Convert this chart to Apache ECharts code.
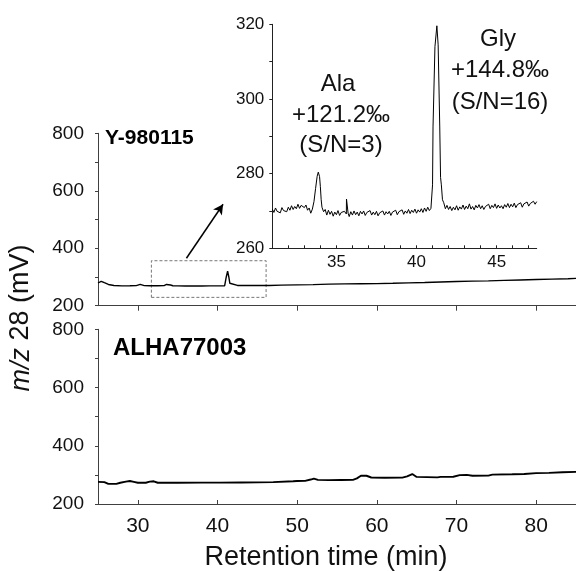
<!DOCTYPE html>
<html>
<head>
<meta charset="utf-8">
<script src="https://cdn.jsdelivr.net/npm/echarts@6.0.0/dist/echarts.min.js"></script>
<style>
html,body{margin:0;padding:0;background:#fff;}
#chart{width:576px;height:571px;}
</style>
</head>
<body>
<div id="chart"></div>
<script>
// ---- data: [retention time (min), m/z 28 signal (mV)] ----
const topTrace = [[25.0,279],[25.4,285],[25.8,280],[26.3,274],[27.0,270.5],[28.0,269],[29.0,269.5],[29.8,270],[30.3,274],[30.8,270],[31.5,269.5],[32.5,269.5],[33.3,270],[33.6,274],[33.85,279],[34.1,272],[34.4,269.5],[35.0,269],[36.0,268.5],[37.0,268.5],[38.0,268.5],[39.0,269],[40.0,269],[40.9,269.5],[41.0,276],[41.1,300],[41.27,320],[41.42,300],[41.55,278],[41.7,272],[42.5,270.5],[43.5,270.5],[44.5,270.5],[45.5,270.5],[46.5,270.5],[48,271.5],[50,272.5],[52,273.5],[54,275],[56,276],[58,276.5],[60,277],[62,278],[64,279.5],[66,280.5],[68,282.5],[70,284],[72,285.5],[74,286.5],[76,288],[78,289.5],[80,291],[82,292.5],[84,294],[85,295]];

const bottomTrace = [[25.0,276],[25.8,275],[26.3,269],[27.3,269],[27.8,273],[28.5,277],[29.0,279],[29.5,276],[30.0,273],[31.0,273],[31.5,277],[32.0,278],[32.5,273],[35,273],[38,273.5],[40.3,273.5],[43,274],[47,275],[47.2,277.5],[49.5,278],[50,279],[51,279.5],[51.7,284],[52.1,287],[52.6,283],[54,282],[55.5,282.5],[57.0,283],[57.5,288],[58.0,297],[58.7,297],[59.3,291],[61,290],[63.2,290.5],[63.8,295],[64.45,303],[65,293],[67.6,291.5],[68,293],[69.6,293.5],[70.4,299],[71.3,300],[72,297],[74,297.5],[74.5,301],[77,302],[78.5,303],[80,306],[81.6,307],[83.3,309],[85,310.5]];

const insetTrace = [[31.0,270.5],[31.1,269.6],[31.2,270.8],[31.3,269.9],[31.4,270.3],[31.5,269.5],[31.6,270.9],[31.7,270.1],[31.8,270.6],[31.9,269.8],[32.0,271.0],[32.1,270.2],[32.2,271.4],[32.3,270.4],[32.4,271.2],[32.5,270.6],[32.6,271.8],[32.7,270.7],[32.8,271.5],[32.9,272.0],[33.0,270.9],[33.1,271.6],[33.2,270.2],[33.3,270.8],[33.4,269.4],[33.5,270.5],
[33.6,272.5],[33.7,276.0],[33.8,279.3],[33.87,280.4],[33.95,279.2],[34.0,276.5],[34.05,273.0],[34.1,271.0],[34.2,269.8],
[34.3,270.4],[34.4,268.9],[34.5,270.2],[34.6,269.1],[34.7,269.9],[34.8,268.6],[34.9,269.7],[35.0,269.0],[35.1,270.1],[35.2,268.8],[35.3,269.6],[35.4,269.1],[35.5,269.9],[35.62,269.2],[35.63,273.2],[35.72,273.2],[35.73,269.4],[35.8,268.5],[35.9,269.8],[36.0,268.9],[36.1,270.0],[36.2,269.0],[36.3,269.7],[36.4,268.7],[36.5,269.9],[36.6,269.2],[36.7,270.0],[36.8,268.8],[36.9,269.6],[37.0,269.2],[37.1,270.1],[37.2,268.9],[37.3,269.7],[37.4,269.0],[37.5,269.9],[37.6,268.7],[37.7,269.5],[37.8,269.1],[37.9,270.0],[38.0,268.9],[38.1,269.8],[38.2,269.2],[38.3,269.9],[38.4,268.8],[38.5,269.7],[38.6,269.3],[38.7,270.2],[38.8,269.0],[38.9,269.8],[39.0,269.3],[39.1,270.3],[39.2,269.1],[39.3,270.0],[39.4,269.4],[39.5,270.4],[39.6,269.3],[39.7,270.2],[39.8,269.6],[39.9,270.5],[40.0,269.4],[40.1,270.3],[40.2,269.7],[40.3,270.6],[40.4,269.6],[40.5,270.8],[40.6,269.9],[40.7,271.0],[40.8,270.1],[40.9,270.7],[40.98,270.4],
[41.0,277],[41.03,292.5],[41.12,293],[41.15,314],[41.27,319.6],[41.35,314.5],[41.42,314],[41.45,292.5],[41.48,292],[41.5,279],[41.55,277],[41.62,273],[41.7,272.2],
[41.8,270.6],[41.9,271.5],[42.0,270.4],[42.1,271.2],[42.2,270.1],[42.3,271.0],[42.4,270.3],[42.5,271.4],[42.6,270.2],[42.7,271.1],[42.8,270.5],[42.9,271.6],[43.0,270.4],[43.1,271.3],[43.2,270.6],[43.3,271.9],[43.4,270.5],[43.5,271.2],[43.6,270.3],[43.7,271.5],[43.8,270.8],[43.9,271.7],[44.0,270.6],[44.1,271.4],[44.2,270.4],[44.3,271.2],[44.4,270.7],[44.5,271.8],[44.6,270.6],[44.7,271.5],[44.8,270.9],[44.9,271.9],[45.0,270.7],[45.1,271.6],[45.2,270.8],[45.3,271.4],[45.4,270.6],[45.5,271.7],[45.6,271.0],[45.7,272.0],[45.8,270.9],[45.9,271.8],[46.0,271.1],[46.1,272.1],[46.2,270.9],[46.3,271.7],[46.4,271.2],[46.5,272.2],[46.6,271.0],[46.7,271.9],[46.8,271.4],[46.9,272.4],[47.0,271.3],[47.1,272.0],[47.2,271.6],[47.3,272.6],[47.4,271.8],[47.5,272.5]];

const mainXTicks = [30,40,50,60,70,80];
const mainYTicks = [200,300,400,500,600,700,800];
const mainYLabels = [200,400,600,800];
const insetXTicks = [32,33,34,35,36,37,38,39,40,41,42,43,44,45,46,47];
const insetXLabels = [35,40,45];
const insetYTicks = [260,270,280,290,300,310,320];
const insetYLabels = [260,280,300,320];

const zoomBox = [[31.7,229],[46.1,356.5]];
const arrowFrom = [36.1,365];
const arrowTo = [40.7,553];

const AX = '#404040';
const TXT = '#111';
const FONT = 'Liberation Sans, Arial, sans-serif';

const chart = echarts.init(document.getElementById('chart'), null, {renderer:'canvas'});

function mainY(gi){
  return {
    type:'value', gridIndex:gi, min:200, max:800,
    splitLine:{show:false},
    axisLine:{show:true, lineStyle:{color:AX, width:1}},
    axisTick:{show:true, length:3, customValues: mainYTicks, lineStyle:{color:AX}},
    axisLabel:{show:true, customValues: mainYLabels, margin:14, fontSize:19, color:TXT, fontFamily:FONT}
  };
}

const option = {
  animation:false,
  backgroundColor:'#fff',
  grid:[
    {left:98, top:133.3, width:478, height:172.4},
    {left:98, top:329.3, width:478, height:174.7},
    {left:272.3, top:24.3, width:264.4, height:224}
  ],
  xAxis:[
    {type:'value', gridIndex:0, min:25, max:85,
     splitLine:{show:false},
     axisLine:{show:true, onZero:false, lineStyle:{color:AX, width:1}},
     axisTick:{show:true, length:5, customValues: mainXTicks, lineStyle:{color:AX}},
     axisLabel:{show:false}},
    {type:'value', gridIndex:1, min:25, max:85,
     splitLine:{show:false},
     axisLine:{show:true, onZero:false, lineStyle:{color:AX, width:1}},
     axisTick:{show:true, inside:true, length:4, customValues: mainXTicks, lineStyle:{color:AX}},
     axisLabel:{show:true, customValues: mainXTicks, margin:12, fontSize:21, color:TXT, fontFamily:FONT}},
    {type:'value', gridIndex:2, min:31, max:47.5,
     splitLine:{show:false},
     axisLine:{show:true, onZero:false, lineStyle:{color:'#222', width:1}},
     axisTick:{show:true, inside:true, length:3, customValues: insetXTicks, lineStyle:{color:'#222'}},
     axisLabel:{show:true, customValues: insetXLabels, margin:6, fontSize:17, color:TXT, fontFamily:FONT}}
  ],
  yAxis:[
    mainY(0),
    mainY(1),
    {type:'value', gridIndex:2, min:260, max:320,
     splitLine:{show:false},
     axisLine:{show:true, onZero:false, lineStyle:{color:'#222', width:1}},
     axisTick:{show:true, length:3, customValues: insetYTicks, lineStyle:{color:'#222'}},
     axisLabel:{show:true, customValues: insetYLabels, margin:8, fontSize:17, color:TXT, fontFamily:FONT}}
  ],
  series:[
    {type:'line', xAxisIndex:0, yAxisIndex:0, data:topTrace,
     showSymbol:false, symbol:'none', lineStyle:{color:'#000', width:1.4}, silent:true,
     markArea:{silent:true,
       itemStyle:{color:'rgba(0,0,0,0)', borderColor:'#777', borderWidth:1, borderType:[3,2]},
       label:{show:false},
       data:[[{coord:zoomBox[0]},{coord:zoomBox[1]}]]},
     markLine:{silent:true, symbol:['none','arrow'], symbolSize:[8,10],
       lineStyle:{color:'#000', width:1.5, type:'solid'},
       label:{show:false},
       data:[[{coord:arrowFrom},{coord:arrowTo}]]}
    },
    {type:'line', xAxisIndex:1, yAxisIndex:1, data:bottomTrace,
     showSymbol:false, symbol:'none', lineStyle:{color:'#000', width:1.9}, silent:true},
    {type:'line', xAxisIndex:2, yAxisIndex:2, data:insetTrace,
     showSymbol:false, symbol:'none', lineStyle:{color:'#000', width:1}, silent:true, z:5}
  ],
  graphic:[
    {type:'text', left:105, top:128, style:{text:'Y-980115', font:'bold 21px '+FONT, fill:'#000'}},
    {type:'text', left:113, top:336, style:{text:'ALHA77003', font:'bold 24px '+FONT, fill:'#000'}},
    {type:'text', x:338, y:84, style:{text:'Ala', font:'24px '+FONT, fill:TXT, textAlign:'center', textVerticalAlign:'middle'}},
    {type:'text', x:341, y:115, style:{text:'+121.2‰', font:'24px '+FONT, fill:TXT, textAlign:'center', textVerticalAlign:'middle'}},
    {type:'text', x:341, y:145, style:{text:'(S/N=3)', font:'24px '+FONT, fill:TXT, textAlign:'center', textVerticalAlign:'middle'}},
    {type:'text', x:498, y:39, style:{text:'Gly', font:'24px '+FONT, fill:TXT, textAlign:'center', textVerticalAlign:'middle'}},
    {type:'text', x:500, y:70, style:{text:'+144.8‰', font:'24px '+FONT, fill:TXT, textAlign:'center', textVerticalAlign:'middle'}},
    {type:'text', x:500, y:102, style:{text:'(S/N=16)', font:'24px '+FONT, fill:TXT, textAlign:'center', textVerticalAlign:'middle'}},
    {type:'text', x:326, y:558, style:{text:'Retention time (min)', font:'27px '+FONT, fill:TXT, textAlign:'center', textVerticalAlign:'middle'}},
    {type:'text', x:21, y:318, rotation:Math.PI/2,
     style:{text:'{i|m/z} 28 (mV)', font:'27px '+FONT, fill:TXT, textAlign:'center', textVerticalAlign:'middle',
       rich:{i:{fontStyle:'italic', fontSize:27, fontFamily:FONT, fill:TXT}}}}
  ]
};
chart.setOption(option);
</script>
</body>
</html>
